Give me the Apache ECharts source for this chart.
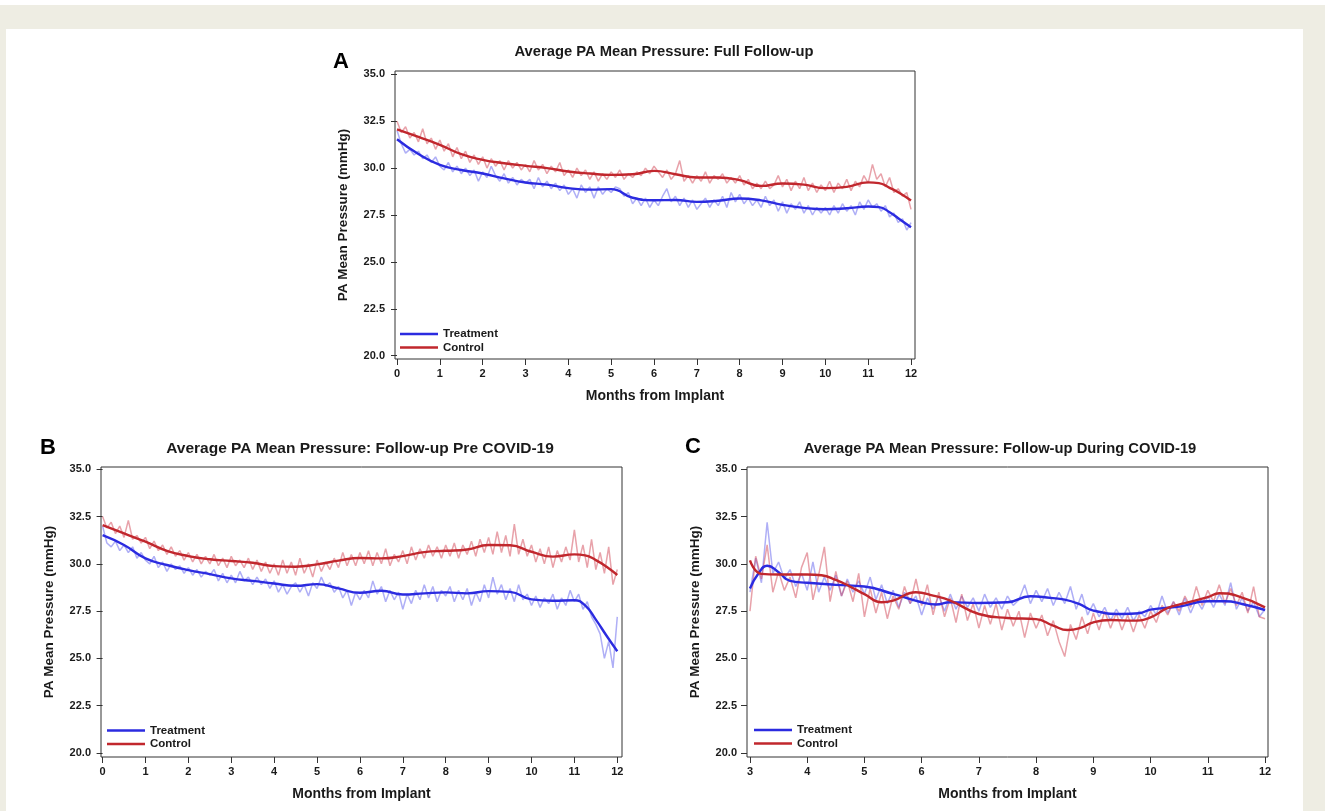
<!DOCTYPE html>
<html>
<head>
<meta charset="utf-8">
<script src="https://cdn.jsdelivr.net/npm/echarts@6/dist/echarts.min.js"></script>
<style>
  html, body { margin: 0; padding: 0; background: #ffffff; width: 1325px; height: 811px; overflow: hidden; }
  #bg { position: absolute; left: 0; top: 5px; width: 1325px; height: 806px; background: #eeede3; }
  #card { position: absolute; left: 6px; top: 29px; width: 1297px; height: 782px; background: #ffffff; }
  #chart { position: absolute; left: 0; top: 0; width: 1325px; height: 811px; }
</style>
</head>
<body>
<div id="bg"></div>
<div id="card"></div>
<div id="chart"></div>
<script>
// ---------------- DATA ----------------
// Raw (daily-average) traces, sampled every 0.1 month.
const RAW_STEP = 0.1;
const RAW_START_AB = 0;   // panels A and B start at month 0
const RAW_START_C = 3;    // panel C starts at month 3

const rawA_treatment = [
  32.0,31.3,30.8,31.0,30.7,30.9,30.5,30.7,30.3,30.6,
  30.1,29.9,30.3,29.8,30.1,29.7,30.0,29.6,29.9,29.3,
  29.8,29.5,30.1,29.6,29.3,29.7,29.2,29.5,29.1,29.4,
  29.2,29.4,28.9,29.5,29.0,29.3,28.9,29.2,28.8,29.1,
  28.6,28.9,28.4,29.1,28.7,29.0,28.4,29.0,28.6,28.9,
  28.7,29.0,28.9,28.5,28.7,28.1,28.4,28.0,28.4,27.9,
  28.3,28.0,28.5,28.9,28.2,28.5,28.0,28.4,27.9,28.3,
  27.8,28.1,28.4,27.9,28.3,28.0,28.5,27.9,28.7,28.2,
  28.6,28.1,28.4,28.0,28.3,27.9,28.5,28.0,28.3,27.7,
  28.2,27.6,28.1,27.8,28.2,27.6,28.0,27.5,27.9,27.6,
  27.9,27.5,28.0,27.6,28.1,27.7,28.0,27.5,28.2,27.8,
  28.3,27.9,28.1,27.7,28.0,27.4,27.6,27.1,27.3,26.7,
  27.1
];
const rawA_control = [
  32.5,31.9,32.2,31.6,31.9,31.4,32.1,31.3,31.6,31.0,
  31.5,30.9,31.3,30.6,31.1,30.5,30.9,30.3,30.7,30.2,
  30.6,30.0,30.5,30.1,30.4,29.9,30.4,30.0,30.3,29.9,
  30.2,29.8,30.4,29.9,30.2,29.7,30.1,29.8,30.3,29.6,
  29.9,29.5,30.0,29.6,29.9,29.4,29.8,29.3,29.7,29.4,
  29.8,29.5,29.9,29.4,29.7,29.5,29.8,29.6,30.0,29.7,
  30.1,29.8,29.5,29.9,29.4,29.7,30.4,29.3,29.6,29.2,
  29.6,29.3,29.8,29.2,29.6,29.4,29.7,29.2,29.5,29.2,
  29.6,29.1,29.4,28.9,29.2,28.9,29.3,28.9,29.1,29.6,
  29.0,29.4,28.8,29.3,28.9,29.5,28.8,29.2,28.7,29.1,
  28.8,29.3,28.7,29.2,28.9,29.4,28.8,29.3,29.0,29.6,
  29.2,30.2,29.4,29.7,29.0,29.5,28.7,28.9,28.5,28.7,
  27.8
];
const rawB_treatment = [
  32.0,31.1,30.9,31.2,30.7,31.0,30.6,30.9,30.3,30.6,
  30.2,30.0,30.4,29.8,30.1,29.6,30.0,29.7,29.9,29.5,
  29.8,29.4,29.7,29.3,29.6,29.4,29.7,29.1,29.5,29.0,
  29.4,29.0,29.6,29.1,29.3,28.9,29.3,28.9,29.2,28.7,
  29.1,28.5,28.9,28.4,28.8,29.0,28.5,28.9,28.3,29.0,
  28.7,29.3,28.8,29.0,28.5,28.8,28.2,28.6,27.8,28.5,
  28.1,28.6,28.2,29.1,28.4,28.8,28.0,28.6,28.1,28.5,
  27.6,28.4,27.9,28.6,28.1,28.9,28.2,28.8,28.0,28.6,
  28.3,28.8,28.0,28.6,28.1,28.7,27.8,28.5,28.0,28.9,
  28.2,29.3,28.4,28.9,28.1,28.7,28.0,28.9,28.1,28.4,
  27.8,28.3,27.7,28.2,27.9,28.4,27.6,28.2,27.8,28.6,
  28.0,28.4,27.6,28.0,27.2,26.8,26.3,25.0,25.9,24.5,
  27.2
];
const rawB_control = [
  32.5,31.9,32.2,31.6,32.0,31.4,32.3,31.3,31.5,31.1,
  31.4,30.8,31.2,30.7,31.0,30.5,30.9,30.4,30.7,30.2,
  30.6,30.1,30.5,30.0,30.4,30.0,30.5,29.9,30.3,29.8,
  30.4,29.9,30.2,29.8,30.3,29.7,30.2,29.6,30.1,29.5,
  30.0,29.4,30.2,29.5,30.1,29.4,30.3,29.5,30.0,29.3,
  30.2,29.6,30.1,29.7,30.3,29.8,30.6,29.9,30.5,29.9,
  30.6,30.0,30.7,29.9,30.6,30.0,30.8,29.9,30.5,30.1,
  30.7,30.0,30.9,30.2,30.8,30.3,31.0,30.4,30.9,30.3,
  31.0,30.4,31.1,30.3,31.0,30.5,31.2,30.4,31.3,30.6,
  31.4,30.5,31.7,30.6,31.5,30.4,32.1,30.5,31.3,30.4,
  31.0,30.1,30.8,30.0,30.9,29.8,30.7,30.1,30.9,30.2,
  31.8,30.1,31.0,29.8,31.3,29.7,30.6,29.5,30.9,28.9,
  29.7
];
const rawC_treatment = [
  28.5,30.3,29.0,32.2,29.5,30.1,29.2,29.7,28.8,29.5,
  28.6,30.1,28.5,29.3,28.6,29.4,28.3,29.2,28.5,29.1,
  28.4,29.3,28.1,28.9,27.9,28.6,27.7,28.5,27.9,28.3,
  27.3,28.2,27.6,28.3,27.5,28.4,27.6,28.3,27.7,28.2,
  27.5,28.4,27.7,28.2,27.6,28.3,27.8,28.1,28.9,27.9,
  28.6,28.0,28.7,27.8,28.5,27.9,28.8,27.6,28.4,27.3,
  27.9,27.2,27.7,27.0,27.6,27.1,27.7,27.0,27.5,27.2,
  27.8,27.3,28.3,27.4,28.0,27.3,28.2,27.4,28.1,27.6,
  28.3,27.7,28.4,27.8,29.0,27.6,28.2,27.5,28.0,27.2,
  27.6
];
const rawC_control = [
  27.5,30.4,29.2,31.0,28.5,29.6,28.6,29.3,28.2,29.8,
  30.6,28.1,29.4,30.9,28.0,29.6,28.3,29.1,28.0,29.5,
  27.2,28.7,27.4,28.5,27.1,28.3,27.6,28.8,27.9,29.2,
  27.8,28.9,27.3,28.5,27.2,28.2,26.9,28.4,27.0,27.9,
  26.6,27.8,26.8,27.9,26.5,27.6,26.7,27.5,26.1,27.4,
  26.6,27.3,26.2,27.0,25.9,25.1,26.8,26.0,27.2,26.3,
  27.4,26.5,27.5,26.6,27.4,26.5,27.3,26.4,27.3,26.6,
  27.5,26.9,27.8,27.3,28.0,27.5,28.3,27.7,28.8,27.8,
  28.6,28.0,28.9,27.9,28.7,27.8,28.5,27.4,28.8,27.2,
  27.1
];

// Smoothed trend curves (months, mmHg)
const smoothA_x = [0,0.5,1,1.5,2,2.5,3,3.5,4,4.5,5,5.5,6,6.5,7,7.5,8,8.5,9,9.5,10,10.5,11,11.25,11.5,11.75,12];
const smoothA_treatment = [31.54,30.75,30.17,29.9,29.71,29.45,29.23,29.12,28.93,28.85,28.88,28.42,28.29,28.3,28.2,28.26,28.38,28.28,28.04,27.88,27.81,27.86,27.95,27.92,27.65,27.25,26.85];
const smoothA_control = [32.07,31.66,31.24,30.74,30.44,30.26,30.12,30.0,29.82,29.71,29.64,29.67,29.85,29.67,29.5,29.5,29.36,29.05,29.18,29.12,28.93,29.0,29.24,29.2,28.95,28.65,28.27];

const smoothB_x = [0,0.5,1,1.5,2,2.5,3,3.5,4,4.5,5,5.5,6,6.5,7,7.5,8,8.5,9,9.5,10,10.5,11,11.25,11.5,11.75,12];
const smoothB_treatment = [31.52,31.0,30.29,29.94,29.67,29.46,29.23,29.1,28.96,28.84,28.93,28.7,28.47,28.58,28.38,28.44,28.49,28.44,28.56,28.52,28.12,28.05,28.08,27.8,27.05,26.2,25.38];
const smoothB_control = [32.05,31.61,31.17,30.69,30.41,30.24,30.15,30.06,29.88,29.85,29.97,30.17,30.31,30.29,30.41,30.62,30.69,30.76,31.0,30.98,30.64,30.38,30.5,30.45,30.2,29.85,29.41];

const smoothC_treatment_x = [3,3.15,3.3,3.5,3.7,4,4.5,5,5.5,6,6.25,6.5,7,7.5,7.9,8.25,8.5,8.75,9,9.5,9.8,10,10.5,11,11.3,11.6,12];
const smoothC_treatment = [28.7,29.5,29.9,29.56,29.1,29.0,28.89,28.8,28.41,27.97,27.85,27.97,27.93,27.97,28.29,28.2,28.11,27.88,27.53,27.35,27.39,27.58,27.74,28.02,28.02,27.88,27.56];
const smoothC_control_x = [3,3.2,3.5,4,4.25,4.5,4.75,5,5.3,5.5,5.9,6.2,6.5,7,7.5,8,8.3,8.55,8.8,9,9.3,9.7,10,10.3,10.6,11,11.2,11.5,12];
const smoothC_control = [30.18,29.47,29.44,29.44,29.4,29.15,28.8,28.4,27.97,28.06,28.5,28.32,28.06,27.35,27.14,27.08,26.73,26.5,26.64,26.91,27.03,27.0,27.17,27.67,27.92,28.24,28.45,28.32,27.7];

// Tick labels
const xTicksAB = [0,1,2,3,4,5,6,7,8,9,10,11,12];
const xTicksC = [3,4,5,6,7,8,9,10,11,12];
const yTicks = [20,22.5,25,27.5,30,32.5,35];

const panelTitles = [
  'Average PA Mean Pressure: Full Follow-up',
  'Average PA Mean Pressure: Follow-up Pre COVID-19',
  'Average PA Mean Pressure: Follow-up During COVID-19'
];
const panelLetters = ['A','B','C'];
const xAxisTitle = 'Months from Implant';
const yAxisTitle = 'PA Mean Pressure (mmHg)';
const seriesNames = ['Treatment','Control'];

// ---------------- BUILD ----------------
const FONT = '"Liberation Sans", Arial, Helvetica, sans-serif';
const TXT = '#1a1a1a';
const AX = '#333333';
const BLUE = '#2b2be0';
const RED = '#c1272d';
const BLUE_RAW = 'rgba(95,95,238,0.5)';
const RED_RAW = 'rgba(210,70,85,0.5)';

function rawPairs(x0, arr) { return arr.map((v, i) => [Math.round((x0 + i * RAW_STEP) * 100) / 100, v]); }
function zip(xs, ys) { return xs.map((x, i) => [x, ys[i]]); }

const panels = [
  { grid: {left: 395, top: 71, width: 520, height: 288}, xmin: -0.047, xmax: 12.093, ymin: 19.824, ymax: 35.176, xt: xTicksAB,
    rawT: rawPairs(RAW_START_AB, rawA_treatment), rawC: rawPairs(RAW_START_AB, rawA_control),
    smT: zip(smoothA_x, smoothA_treatment), smC: zip(smoothA_x, smoothA_control),
    legend: {left: 400, top: 327.5}, title: {x: 664, y: 52, size: 14.75}, letter: {x: 341, y: 62} },
  { grid: {left: 101, top: 467, width: 521, height: 290}, xmin: -0.037, xmax: 12.11, ymin: 19.79, ymax: 35.12, xt: xTicksAB,
    rawT: rawPairs(RAW_START_AB, rawB_treatment), rawC: rawPairs(RAW_START_AB, rawB_control),
    smT: zip(smoothB_x, smoothB_treatment), smC: zip(smoothB_x, smoothB_control),
    legend: {left: 107, top: 724}, title: {x: 360, y: 449, size: 15.5}, letter: {x: 48, y: 448} },
  { grid: {left: 747, top: 467, width: 521, height: 290}, xmin: 2.948, xmax: 12.052, ymin: 19.79, ymax: 35.12, xt: xTicksC,
    rawT: rawPairs(RAW_START_C, rawC_treatment), rawC: rawPairs(RAW_START_C, rawC_control),
    smT: zip(smoothC_treatment_x, smoothC_treatment), smC: zip(smoothC_control_x, smoothC_control),
    legend: {left: 754, top: 723.5}, title: {x: 1000, y: 449, size: 14.75}, letter: {x: 693, y: 447} }
];

const option = {
  animation: false,
  backgroundColor: 'transparent',
  grid: [], xAxis: [], yAxis: [], series: [], legend: [], graphic: []
};

panels.forEach((p, i) => {
  option.grid.push(Object.assign({ show: true, borderColor: AX, borderWidth: 1, backgroundColor: 'transparent', containLabel: false }, p.grid));
  option.xAxis.push({
    gridIndex: i, type: 'value', min: p.xmin, max: p.xmax,
    axisLine: { show: false },
    axisTick: { show: true, length: 6, lineStyle: { color: AX, width: 1 }, customValues: p.xt },
    axisLabel: { customValues: p.xt, margin: 9, fontSize: 11, fontWeight: 'bold', color: TXT, fontFamily: FONT },
    splitLine: { show: false },
    name: xAxisTitle, nameLocation: 'middle', nameGap: 30,
    nameTextStyle: { fontSize: 14, fontWeight: 'bold', color: TXT, fontFamily: FONT }
  });
  option.yAxis.push({
    gridIndex: i, type: 'value', min: p.ymin, max: p.ymax,
    axisLine: { show: false },
    axisTick: { show: true, length: 6, lineStyle: { color: AX, width: 1 }, customValues: yTicks },
    axisLabel: { customValues: yTicks, margin: 10, fontSize: 11, fontWeight: 'bold', color: TXT, fontFamily: FONT,
                 formatter: v => Number(v).toFixed(1) },
    splitLine: { show: false },
    name: yAxisTitle, nameLocation: 'middle', nameGap: 45,
    nameTextStyle: { fontSize: 13.5, fontWeight: 'bold', color: TXT, fontFamily: FONT }
  });
  const common = { type: 'line', xAxisIndex: i, yAxisIndex: i, showSymbol: false, symbol: 'none', silent: true };
  option.series.push(Object.assign({}, common, { name: 'Treatment (daily)', data: p.rawT, lineStyle: { color: BLUE_RAW, width: 1.5 }, itemStyle: { color: BLUE_RAW }, z: 2 }));
  option.series.push(Object.assign({}, common, { name: 'Control (daily)', data: p.rawC, lineStyle: { color: RED_RAW, width: 1.5 }, itemStyle: { color: RED_RAW }, z: 2 }));
  option.series.push(Object.assign({}, common, { name: seriesNames[0], data: p.smT, smooth: 0.5, lineStyle: { color: BLUE, width: 2.4 }, itemStyle: { color: BLUE }, z: 3 }));
  option.series.push(Object.assign({}, common, { name: seriesNames[1], data: p.smC, smooth: 0.5, lineStyle: { color: RED, width: 2.4 }, itemStyle: { color: RED }, z: 3 }));
  option.legend.push({
    left: p.legend.left, top: p.legend.top, orient: 'vertical', padding: 0,
    data: seriesNames, icon: 'rect', itemWidth: 38, itemHeight: 2.5, itemGap: 0.5,
    selectedMode: false,
    textStyle: { fontSize: 11.5, fontWeight: 'bold', color: TXT, fontFamily: FONT, lineHeight: 13 }
  });
  option.graphic.push({
    type: 'text', x: p.title.x, y: p.title.y, silent: true,
    style: { text: panelTitles[i], fill: TXT, font: 'bold ' + p.title.size + 'px ' + FONT,
             align: 'center', verticalAlign: 'middle', textAlign: 'center', textVerticalAlign: 'middle' }
  });
  option.graphic.push({
    type: 'text', x: p.letter.x, y: p.letter.y, silent: true,
    style: { text: panelLetters[i], fill: '#000', font: 'bold 22px ' + FONT,
             align: 'center', verticalAlign: 'middle', textAlign: 'center', textVerticalAlign: 'middle' }
  });
});

const chart = echarts.init(document.getElementById('chart'), null, { renderer: 'canvas' });
chart.setOption(option);
</script>
</body>
</html>
